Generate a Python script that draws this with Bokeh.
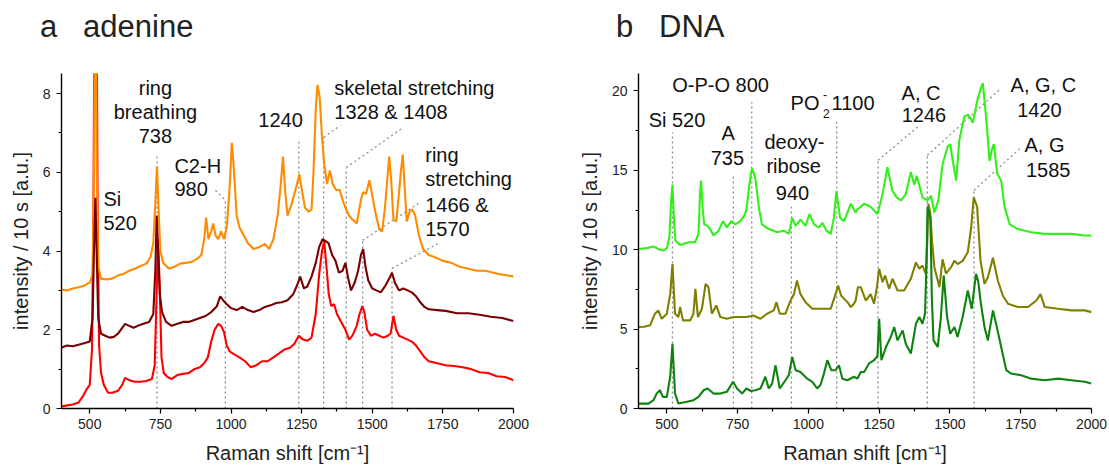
from bokeh.plotting import figure
from bokeh.layouts import row, column
from bokeh.models import FixedTicker, Div
from bokeh.core.properties import value
from bokeh.embed import file_html
from bokeh.resources import INLINE

FONT = "Liberation Sans"

# ---------------- panel a: adenine (x = Raman shift, y = intensity) ----------------
a_orange = [(400,3.02),(420,3.0),(440,3.05),(460,3.08),(480,3.12),(500,3.2),(510,3.4),(515,6.0),(520,12.0),(525,6.0),(530,3.6),(540,3.3),(560,3.28),(580,3.3),(600,3.38),(620,3.42),(640,3.5),(660,3.55),(680,3.62),(700,3.68),(715,3.85),(725,4.2),(732,5.2),(738,6.15),(744,5.0),(750,4.0),(760,3.7),(780,3.55),(800,3.6),(820,3.68),(840,3.7),(860,3.72),(880,3.8),(895,3.9),(905,4.3),(912,4.85),(920,4.3),(930,4.5),(937,4.7),(945,4.4),(955,4.3),(965,4.5),(975,4.3),(985,4.6),(995,5.6),(1003,6.75),(1010,6.1),(1020,4.9),(1030,4.6),(1045,4.4),(1060,4.2),(1080,4.05),(1100,4.1),(1120,4.18),(1135,4.05),(1150,4.3),(1165,4.9),(1175,5.6),(1184,6.4),(1192,5.5),(1200,4.9),(1215,5.2),(1230,5.6),(1242,5.95),(1252,5.5),(1262,5.1),(1275,5.0),(1285,5.05),(1292,6.0),(1300,7.6),(1306,8.22),(1314,7.9),(1322,6.9),(1330,6.2),(1340,5.7),(1350,6.05),(1360,5.7),(1372,5.55),(1385,5.55),(1395,5.3),(1405,5.1),(1418,4.9),(1430,4.8),(1445,4.7),(1460,5.3),(1468,5.5),(1478,5.45),(1490,5.8),(1500,5.4),(1512,4.95),(1525,4.55),(1535,4.5),(1545,5.1),(1553,5.8),(1560,6.4),(1567,5.8),(1575,4.8),(1585,4.75),(1595,5.5),(1601,6.0),(1608,6.45),(1615,5.6),(1622,4.75),(1632,5.0),(1642,5.05),(1652,4.9),(1665,4.4),(1680,4.05),(1700,3.9),(1720,3.85),(1750,3.75),(1780,3.7),(1810,3.6),(1840,3.55),(1870,3.5),(1900,3.5),(1930,3.45),(1960,3.4),(1980,3.38),(2000,3.35)]
a_maroon = [(400,1.55),(420,1.6),(440,1.58),(460,1.62),(480,1.66),(500,1.7),(510,2.3),(515,4.0),(520,5.35),(525,3.8),(530,2.3),(540,1.9),(555,1.85),(570,1.8),(585,1.82),(600,1.9),(615,2.05),(625,2.15),(640,2.1),(655,2.05),(670,2.1),(690,2.15),(710,2.2),(725,2.4),(732,3.5),(737,4.9),(742,4.0),(748,2.9),(756,2.45),(770,2.2),(790,2.1),(810,2.15),(830,2.2),(850,2.2),(870,2.25),(890,2.3),(910,2.35),(930,2.45),(950,2.6),(962,2.85),(972,2.75),(985,2.65),(1000,2.55),(1020,2.5),(1040,2.58),(1060,2.5),(1080,2.45),(1100,2.5),(1120,2.58),(1140,2.62),(1160,2.68),(1180,2.7),(1200,2.75),(1220,2.9),(1235,3.15),(1245,3.35),(1258,3.05),(1270,3.1),(1285,3.35),(1300,3.7),(1312,4.1),(1324,4.3),(1335,4.25),(1345,4.2),(1358,3.9),(1370,3.75),(1382,3.45),(1395,3.5),(1405,3.7),(1415,3.3),(1425,3.0),(1438,3.2),(1450,3.5),(1460,3.9),(1468,4.05),(1476,3.6),(1486,3.25),(1500,3.05),(1515,3.0),(1530,2.95),(1545,3.1),(1560,3.3),(1570,3.45),(1580,3.2),(1595,3.0),(1610,3.05),(1625,3.0),(1640,2.95),(1655,2.85),(1670,2.7),(1685,2.58),(1700,2.52),(1730,2.5),(1760,2.48),(1800,2.42),(1840,2.42),(1880,2.38),(1920,2.33),(1960,2.3),(2000,2.22)]
a_red = [(400,0.05),(420,0.08),(440,0.1),(460,0.15),(475,0.3),(490,0.5),(500,0.6),(508,1.5),(513,5.0),(518,12.0),(523,12.0),(528,5.0),(533,1.6),(540,0.9),(550,0.6),(565,0.4),(580,0.4),(600,0.45),(615,0.6),(625,0.78),(640,0.72),(660,0.68),(680,0.68),(700,0.7),(720,0.75),(730,1.1),(737,3.0),(742,4.3),(748,3.0),(754,1.3),(762,0.9),(775,0.8),(790,0.75),(810,0.85),(830,0.88),(850,0.9),(870,1.0),(890,1.05),(905,1.15),(918,1.3),(930,1.7),(942,2.0),(955,2.15),(965,2.1),(975,1.95),(985,1.6),(995,1.45),(1010,1.38),(1030,1.3),(1050,1.2),(1070,1.05),(1090,1.1),(1110,1.2),(1130,1.2),(1150,1.3),(1170,1.4),(1190,1.5),(1210,1.55),(1225,1.65),(1240,1.85),(1255,1.75),(1270,1.72),(1285,1.8),(1300,2.4),(1312,3.4),(1322,4.0),(1330,4.25),(1338,3.6),(1346,2.9),(1355,2.6),(1365,2.65),(1375,2.4),(1390,2.2),(1405,2.0),(1418,1.75),(1430,1.85),(1445,2.1),(1455,2.4),(1465,2.6),(1472,2.45),(1482,2.0),(1495,1.85),(1510,1.9),(1525,1.85),(1540,1.8),(1555,1.85),(1565,1.9),(1575,2.35),(1585,2.0),(1595,1.85),(1610,1.8),(1625,1.75),(1640,1.7),(1655,1.6),(1670,1.45),(1685,1.3),(1700,1.2),(1730,1.15),(1760,1.1),(1790,1.08),(1820,1.05),(1850,1.0),(1880,0.92),(1910,0.9),(1940,0.82),(1970,0.8),(2000,0.72)]

# ---------------- panel b: DNA ----------------
b_light = [(400,10.05),(430,10.1),(453,10.2),(470,10.05),(488,9.95),(500,10.1),(509,10.8),(515,13.0),(520,14.1),(525,12.0),(530,10.6),(547,10.3),(577,10.47),(600,10.47),(612,11.0),(617,13.5),(621,14.35),(627,12.5),(632,11.6),(644,11.5),(653,11.3),(665,10.9),(683,11.2),(698,11.8),(712,11.4),(728,11.8),(742,11.6),(760,11.8),(775,12.2),(781,12.5),(789,13.7),(797,14.8),(801,15.1),(808,14.8),(813,14.45),(825,12.7),(836,11.6),(860,11.3),(890,11.1),(913,11.2),(931,11.0),(943,12.0),(955,11.5),(972,11.9),(990,11.5),(1004,12.25),(1020,11.6),(1037,11.4),(1049,11.7),(1064,11.2),(1079,11.0),(1090,12.0),(1099,13.7),(1106,12.8),(1112,12.0),(1126,11.8),(1150,12.9),(1167,12.35),(1173,12.55),(1185,12.7),(1197,12.9),(1220,12.7),(1244,12.25),(1262,13.5),(1279,15.2),(1297,13.7),(1312,13.3),(1327,13.1),(1344,13.5),(1362,14.9),(1374,14.1),(1383,14.65),(1403,13.3),(1421,13.1),(1433,13.4),(1445,12.35),(1459,13.1),(1474,15.4),(1492,16.5),(1501,16.65),(1510,15.6),(1522,14.35),(1533,16.9),(1551,18.4),(1565,18.5),(1581,18.0),(1598,19.5),(1610,20.2),(1616,20.5),(1628,18.3),(1640,15.6),(1648,16.3),(1655,16.65),(1667,14.8),(1681,14.35),(1693,12.7),(1711,11.6),(1740,11.3),(1787,11.1),(1835,11.0),(1882,11.0),(1929,11.0),(1976,10.9),(2000,10.9)]
b_olive = [(400,5.13),(420,5.15),(441,5.24),(458,5.97),(470,6.18),(482,5.65),(500,5.97),(512,7.2),(520,9.1),(526,7.0),(529,5.97),(541,5.76),(547,6.39),(557,5.55),(583,5.55),(594,5.97),(601,7.54),(606,6.5),(610,5.76),(624,6.28),(637,7.85),(647,7.64),(659,5.97),(675,6.49),(689,5.76),(712,5.65),(736,5.76),(760,5.76),(783,5.76),(805,5.86),(831,5.65),(854,5.97),(878,6.18),(887,6.7),(899,5.97),(919,5.97),(937,6.8),(949,7.2),(960,8.06),(972,7.2),(990,6.7),(1014,6.28),(1037,6.28),(1061,6.28),(1079,6.28),(1096,7.2),(1105,7.75),(1116,7.1),(1138,6.7),(1150,6.39),(1161,6.6),(1167,6.8),(1175,7.64),(1185,7.64),(1203,6.8),(1220,7.2),(1232,6.6),(1242,7.64),(1250,8.8),(1262,7.96),(1271,8.38),(1285,7.54),(1297,8.17),(1315,7.43),(1338,7.43),(1362,8.17),(1380,9.2),(1392,8.8),(1403,9.0),(1415,8.48),(1420,10.5),(1424,12.9),(1430,12.4),(1437,10.5),(1445,8.9),(1463,7.64),(1474,9.4),(1486,8.5),(1504,8.9),(1516,9.3),(1527,9.1),(1545,9.3),(1563,9.84),(1575,11.4),(1584,13.3),(1596,12.7),(1608,9.3),(1622,7.85),(1634,8.27),(1652,9.5),(1669,8.06),(1687,7.1),(1705,6.6),(1740,6.39),(1776,6.39),(1805,6.8),(1820,7.2),(1835,6.39),(1882,6.28),(1929,6.18),(1976,6.18),(2000,6.07)]
b_dark = [(400,0.31),(435,0.31),(453,0.52),(464,0.94),(476,1.15),(486,0.73),(500,0.73),(512,2.0),(520,4.08),(526,2.0),(529,0.94),(541,0.31),(571,0.42),(594,0.52),(612,0.73),(630,1.15),(644,1.26),(665,0.94),(689,0.94),(712,1.05),(734,1.68),(748,1.26),(766,0.94),(781,1.26),(797,1.1),(813,1.15),(831,1.26),(848,2.0),(860,1.26),(872,1.57),(884,2.72),(899,1.26),(919,1.78),(931,2.1),(943,3.25),(955,2.41),(972,2.3),(996,1.88),(1014,1.68),(1031,1.26),(1043,1.5),(1055,2.2),(1067,3.04),(1081,2.41),(1096,2.41),(1108,2.72),(1120,1.88),(1138,1.78),(1161,2.0),(1173,1.88),(1185,2.3),(1197,2.3),(1214,2.83),(1232,3.04),(1244,3.3),(1250,5.65),(1258,3.04),(1274,3.87),(1291,4.5),(1303,5.13),(1315,4.29),(1333,4.92),(1344,4.08),(1362,3.46),(1380,5.34),(1392,5.76),(1403,5.34),(1412,5.97),(1417,9.0),(1421,12.67),(1427,12.3),(1431,12.0),(1436,7.0),(1442,4.29),(1457,3.87),(1468,5.76),(1478,8.38),(1490,5.76),(1501,4.71),(1516,5.13),(1527,4.5),(1545,5.76),(1563,7.43),(1577,6.28),(1592,8.48),(1600,8.0),(1608,6.8),(1622,5.13),(1634,4.29),(1652,6.18),(1663,5.34),(1681,3.87),(1699,2.41),(1716,2.2),(1752,2.09),(1787,1.88),(1835,1.78),(1882,1.88),(1929,1.78),(1976,1.68),(2000,1.57)]

# ticks
x_ticks = [500, 750, 1000, 1250, 1500, 1750, 2000]
x_minor = [625, 875, 1125, 1375, 1625, 1875]
a_yticks = [0, 2, 4, 6, 8]
a_yminor = [1, 3, 5, 7]
b_yticks = [0, 5, 10, 15, 20]
b_yminor = [2.5, 7.5, 12.5, 17.5]

# band markers (Raman shift) and their annotations
a_marks = [738, 980, 1240, 1328, 1408, 1466, 1570]
a_mark_tops = [6.43, 5.29, 6.84, 6.89, 6.12, 4.27, 3.56]
b_marks = [520, 735, 800, 940, 1100, 1246, 1420, 1585]
b_mark_tops = [17.4, 14.7, 19.3, 12.7, 18.04, 15.63, 15.94, 13.74]

TITLE_H = 54


def make_fig(width, left, right, ymax, yt, ym):
    p = figure(width=width, height=469 - TITLE_H, x_range=(400, 2000), y_range=(0, ymax),
               output_backend="svg", toolbar_location=None, margin=0,
               min_border_left=left, min_border_right=right,
               min_border_top=73 - TITLE_H, min_border_bottom=61)
    p.grid.visible = False
    p.outline_line_color = None
    p.background_fill_color = "white"
    p.border_fill_color = "white"
    p.xaxis.ticker = FixedTicker(ticks=x_ticks, minor_ticks=x_minor)
    p.yaxis.ticker = FixedTicker(ticks=yt, minor_ticks=ym)
    for ax in (p.xaxis[0], p.yaxis[0]):
        ax.axis_line_color = "black"
        ax.axis_line_width = 1.4
        ax.major_tick_line_color = "black"
        ax.minor_tick_line_color = "black"
        ax.major_tick_line_width = 1.2
        ax.minor_tick_line_width = 1.2
        ax.major_tick_out = 5
        ax.major_tick_in = 0
        ax.minor_tick_out = 3
        ax.minor_tick_in = 0
        ax.major_label_text_font = FONT
        ax.major_label_text_font_size = "14px"
        ax.major_label_text_color = "#222222"
        ax.axis_label_text_font = FONT
        ax.axis_label_text_font_size = "20px"
        ax.axis_label_text_font_style = "normal"
        ax.axis_label_text_color = "#222222"
    p.xaxis.axis_label = "Raman shift [cm\u207b\u00b9]"
    p.xaxis.major_label_standoff = 5
    p.xaxis.axis_label_standoff = 10
    p.yaxis.axis_label = "intensity / 10 s [a.u.]"
    p.yaxis.major_label_standoff = 6
    p.yaxis.axis_label_standoff = 8
    return p


def title_div(text, width, pad):
    return Div(text=text, width=width, height=TITLE_H, margin=0,
               styles={"font-family": FONT, "font-size": "31px", "color": "#222222",
                       "line-height": "%dpx" % TITLE_H, "padding-left": "%dpx" % pad,
                       "white-space": "pre", "box-sizing": "border-box"})


def draw(p, pts, color):
    p.line([q[0] for q in pts], [q[1] for q in pts], line_color=color, line_width=2.1)


def dotted(p, x0, y0, x1, y1):
    p.segment(x0=x0, y0=y0, x1=x1, y1=y1, line_color="#8c8c8c", line_width=1.3,
              line_dash=value([2, 3]))


def txt(p, xs, ys, texts, align, size="20px"):
    p.text(x=xs, y=ys, text=texts, text_font=value(FONT), text_font_size=size,
           text_align=align, text_baseline="middle", text_color="#111111")


# ---------- panel a ----------
pa = make_fig(560, 61, 47, 8.51, a_yticks, a_yminor)
dotted(pa, a_marks, [0] * len(a_marks), a_marks, a_mark_tops)
dotted(pa, [945, 1328, 1408, 1466, 1570], [5.54, 6.89, 6.12, 4.27, 3.56],
       [980, 1387, 1606, 1663, 1741], [5.29, 7.19, 7.12, 5.21, 4.22])
draw(pa, a_red, "#ff0000")
draw(pa, a_orange, "#ff8c00")
draw(pa, a_maroon, "#780000")
txt(pa, [732.5, 732.5, 732.5], [8.13, 7.52, 6.91], ["ring", "breathing", "738"], "center")
txt(pa, [548.6, 548.6, 799.7, 799.7, 1096.8, 1365.7, 1365.7, 1687.6, 1687.6, 1687.6, 1687.6],
    [5.31, 4.70, 6.15, 5.57, 7.32, 8.13, 7.52, 6.43, 5.82, 5.18, 4.57],
    ["Si", "520", "C2-H", "980", "1240", "skeletal stretching", "1328 & 1408",
     "ring", "stretching", "1466 &", "1570"], "left")

# ---------- panel b ----------
pb = make_fig(549, 78, 18, 21.1, b_yticks, b_yminor)
dotted(pb, b_marks, [0] * len(b_marks), b_marks, b_mark_tops)
dotted(pb, [1246, 1420, 1585], [15.63, 15.94, 13.74], [1386, 1675, 1746], [17.73, 20.08, 16.36])
draw(pb, b_light, "#33f01a")
draw(pb, b_olive, "#808000")
draw(pb, b_dark, "#0f820f")
txt(pb, [690, 536, 717, 714, 951, 948, 944, 1398, 1408, 1830, 1816, 1834, 1847],
    [20.35, 18.2, 17.33, 15.8, 16.76, 15.25, 13.6, 19.9, 18.46, 20.35, 18.78, 16.57, 15.0],
    ["O-P-O 800", "Si 520", "A", "735", "deoxy-", "ribose", "940", "A, C", "1246",
     "A, G, C", "1420", "A, G", "1585"], "center")
txt(pb, [937, 1082], [19.22, 19.22], ["PO", "1100"], "left")
txt(pb, [1052, 1052], [19.75, 18.6], ["-", "2"], "left", size="12px")

ta = title_div("a   adenine", 560, 40)
tb = title_div("b   DNA", 549, 56)

layout = column(row(ta, tb, spacing=0, margin=0), row(pa, pb, spacing=0, margin=0),
                spacing=0, margin=0)
open("out.html", "w").write(file_html(layout, INLINE))
